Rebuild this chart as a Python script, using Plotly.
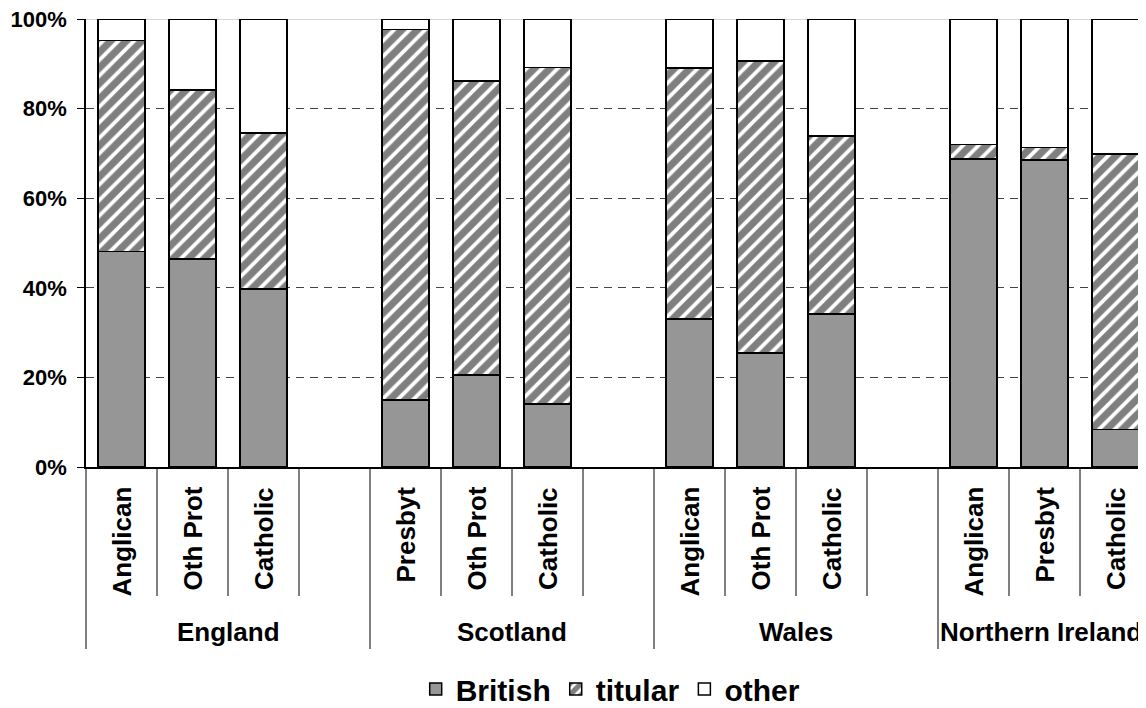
import plotly.graph_objects as go

# ---- data ----
groups = ["England", "Scotland", "Wales", "Northern Ireland"]
group_slots = [4, 4, 4, 3]  # number of category slots per group (incl. blank spacer)
categories = ["Anglican", "Oth Prot", "Catholic", "",
              "Presbyt", "Oth Prot", "Catholic", "",
              "Anglican", "Oth Prot", "Catholic", "",
              "Anglican", "Presbyt", "Catholic"]
british = [48.1, 46.4, 39.7, None, 15.0, 20.5, 14.1, None, 33.0, 25.5, 34.1, None, 68.8, 68.5, 8.4]
titular = [47.1, 37.8, 34.9, None, 82.7, 65.7, 75.1, None, 56.1, 65.1, 39.8, None, 3.2, 2.8, 61.5]
other = [4.8, 15.8, 25.4, None, 2.3, 13.8, 10.8, None, 10.9, 9.4, 26.1, None, 28.0, 28.7, 30.1]
y_ticks = [0, 20, 40, 60, 80, 100]
y_tick_text = ["0%", "20%", "40%", "60%", "80%", "100%"]

FONT = "Liberation Sans, Arial, sans-serif"
PAGE_OFF = 8  # default body margin of the html page
W, H = 1146 - PAGE_OFF, 708 - PAGE_OFF
L, T = 86 - PAGE_OFF, 19 - PAGE_OFF
B = H - (467 - PAGE_OFF)
plot_h = H - T - B

def py(px):  # page pixel row -> paper y
    return (467 - px) / plot_h

x = list(range(len(categories)))
line = dict(color="black", width=1.5)

fig = go.Figure()
fig.add_trace(go.Bar(x=x, y=british, name="British", width=0.66,
                     marker=dict(color="#969696", line=line)))
fig.add_trace(go.Bar(x=x, y=titular, name="titular", width=0.66,
                     marker=dict(color="white", line=line,
                                 pattern=dict(shape="/", fgcolor="black", bgcolor="white",
                                              size=11, solidity=0.65))))
fig.add_trace(go.Bar(x=x, y=other, name="other", width=0.66,
                     marker=dict(color="white", line=line)))

annotations = []
shapes = []
for i, c in enumerate(categories):
    if c:
        annotations.append(dict(x=i, y=py(485), xref="x", yref="paper", text=c,
                                textangle=-90, yanchor="top", xanchor="center",
                                showarrow=False,
                                font=dict(family=FONT, size=26, color="black", weight="bold")))
start = 0
for g, n in zip(groups, group_slots):
    center = start + (n - 1) / 2
    annotations.append(dict(x=center, y=py(632), xref="x", yref="paper", text=g,
                            yanchor="middle", xanchor="center", showarrow=False,
                            xshift=-4 if n == 3 else 0,
                            font=dict(family=FONT, size=26, color="black", weight="bold")))
    if start == 0:
        shapes.append(dict(type="line", xref="paper", yref="paper", x0=0, x1=0,
                           y0=0, y1=py(649), line=dict(color="black", width=1)))
    else:
        shapes.append(dict(type="line", xref="x", yref="paper", x0=start - 0.5, x1=start - 0.5,
                           y0=0, y1=py(649), line=dict(color="black", width=1)))
    for k in range(1, n):
        b = start + k - 0.5
        shapes.append(dict(type="line", xref="x", yref="paper", x0=b, x1=b,
                           y0=0, y1=py(596), line=dict(color="black", width=1)))
    start += n

shapes.append(dict(type="line", xref="paper", yref="y", x0=0, x1=1, y0=100, y1=100,
                   line=dict(color="#c8c8c8", width=1.5), layer="below"))

slot_px = 71.0
fig.update_layout(
    width=W, height=H,
    margin=dict(l=L, r=0, t=T, b=B, autoexpand=False),
    barmode="stack",
    plot_bgcolor="white", paper_bgcolor="white",
    font=dict(family=FONT, color="black"),
    showlegend=True,
    legend=dict(orientation="h", x=0.495, xanchor="center",
                y=py(689), yanchor="middle",
                font=dict(family=FONT, size=30, color="black", weight="bold"),
                itemwidth=30, traceorder="normal"),
    xaxis=dict(range=[-0.5, -0.5 + (1146 - 86) / slot_px], showticklabels=False, ticks="",
               showgrid=False, zeroline=False, showline=True, linecolor="black", linewidth=1.5,
               automargin=False),
    yaxis=dict(range=[0, 100], tickvals=y_ticks, ticktext=y_tick_text, ticks="outside", ticklen=7,
               tickcolor="black", showline=True, linecolor="black", linewidth=1.5,
               showgrid=True, gridcolor="#444444", griddash="8px,6px", gridwidth=1,
               zeroline=False, ticklabelstandoff=6, automargin=False,
               ticklabeloverflow="allow",
               tickfont=dict(family=FONT, size=22, color="black", weight="bold")),
    annotations=annotations,
    shapes=shapes,
)

fig.write_html("out.html")
